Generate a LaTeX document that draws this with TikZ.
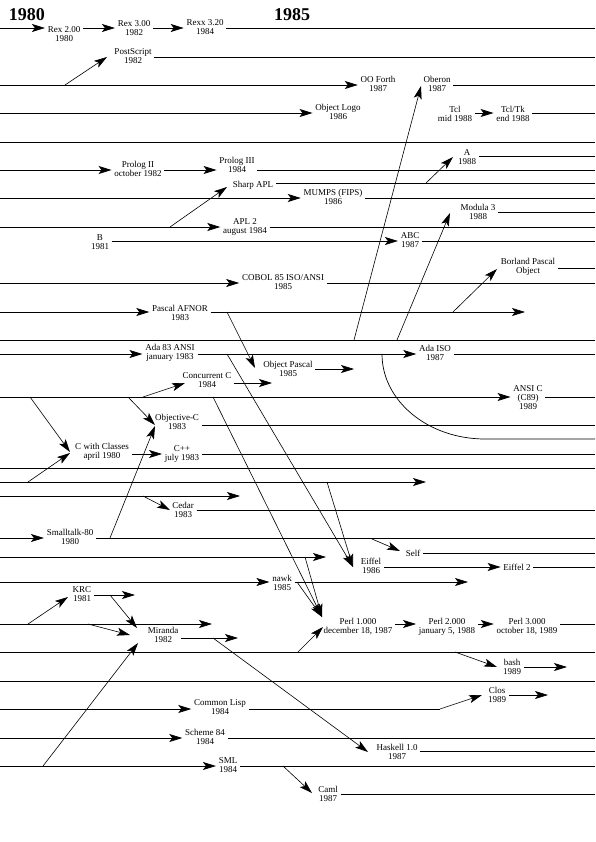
\documentclass[tikz,border=0pt]{standalone}
\usepackage{fontspec}
\setmainfont{Liberation Serif}
\usetikzlibrary{arrows.meta}
\begin{document}
\begin{tikzpicture}[x=1pt,y=-1pt,line width=0.7pt,
  arr/.style={-{Stealth[length=13pt,width=8pt,inset=3pt]}},
  lab/.style={font=\fontsize{9}{9}\selectfont,align=center,inner sep=2.5pt},
  title/.style={font=\fontsize{18}{18}\selectfont\bfseries,inner sep=0pt}]
\useasboundingbox (0,0) rectangle (595,842);
\fill[white] (0,0) rectangle (595,842);
\coordinate (E) at (595,0);
\foreach \r in {28,57,85,113,142,156,170,183,198,212,227,241,268,283,312,340,354,369,383,397,425,439,454,468,482,496,510,538,553,557,567,582,595,624,638,652,667,681,695,709,738,751,766,794}
  {\coordinate (y\r) at (0,\r);}
% free ends
\coordinate (f312) at (525,312);
\coordinate (f369) at (354,369);
\coordinate (f383) at (272,383);
\coordinate (f482) at (426,482);
\coordinate (f496) at (240,496);
\coordinate (f557) at (326,557);
\coordinate (f582) at (468,582);
\coordinate (f595) at (135,595);
\coordinate (f624) at (212,624);
\coordinate (f638) at (238,638);
\coordinate (f667) at (567,667);
\coordinate (f695) at (548,695);
\coordinate (e709) at (440,709);
% sources of the slanted arrows
\coordinate (s1) at (65,85);
\coordinate (s2) at (354,340);
\coordinate (s3) at (426,183);
\coordinate (s4) at (170,227);
\coordinate (s5) at (397,340);
\coordinate (s6) at (453,312);
\coordinate (s7) at (227,312);
\coordinate (s8) at (143,397);
\coordinate (s9) at (30,397);
\coordinate (s10) at (128,397);
\coordinate (s11) at (213,397);
\coordinate (s12) at (28,482);
\coordinate (s13) at (327,482);
\coordinate (s14) at (143,496);
\coordinate (s15) at (110,538);
\coordinate (s16) at (372,539);
\coordinate (s17) at (305,557);
\coordinate (s18) at (227,354);
\coordinate (s19) at (297,582);
\coordinate (s20) at (110,595);
\coordinate (s21) at (28,624);
\coordinate (s22) at (88,624);
\coordinate (s23) at (213,638);
\coordinate (s24) at (298,652);
\coordinate (s25) at (455,652);
\coordinate (s26) at (43,766);
\coordinate (s27) at (283,766);
\coordinate (c1) at (382,354);
\coordinate (c2) at (485,439);

% titles
\node[title] (t80) at (27,15) {1980};
\node[title] (t85) at (292,15) {1985};

% labels
\node[lab] (rex2) at (64,34.5) {Rex 2.00\\1980};
\node[lab] (rex3) at (134,28.5) {Rex 3.00\\1982};
\node[lab] (rexx) at (205,27) {Rexx 3.20\\1984};
\node[lab] (ps) at (133,56.5) {PostScript\\1982};
\node[lab] (ooforth) at (378,84) {OO Forth\\1987};
\node[lab] (oberon) at (437,84) {Oberon\\1987};
\node[lab] (ologo) at (338,111.5) {Object Logo\\1986};
\node[lab] (tcl) at (455,114) {Tcl\\mid 1988};
\node[lab] (tcltk) at (513,113.5) {Tcl/Tk\\end 1988};
\node[lab] (a) at (467,157) {A\\1988};
\node[lab] (prolog2) at (138,168.5) {Prolog II\\october 1982};
\node[lab] (prolog3) at (237,164.5) {Prolog III\\1984};
\node[lab] (sharp) at (253,185) {Sharp APL};
\node[lab] (mumps) at (333,197) {MUMPS (FIPS)\\1986};
\node[lab] (modula3) at (478,211.5) {Modula 3\\1988};
\node[lab] (apl2) at (245,227) {APL 2\\august 1984};
\node[lab] (b) at (100,242.5) {B\\1981};
\node[lab] (abc) at (410,240.5) {ABC\\1987};
\node[lab] (borland) at (528,266.5) {Borland Pascal\\Object};
\node[lab] (cobol) at (283,282.5) {COBOL 85 ISO/ANSI\\1985};
\node[lab] (pafnor) at (180,312.5) {Pascal AFNOR\\1983};
\node[lab] (ada83) at (170,353) {Ada 83 ANSI\\january 1983};
\node[lab] (adaiso) at (435,353) {Ada ISO\\1987};
\node[lab] (opascal) at (288,368.5) {Object Pascal\\1985};
\node[lab] (concc) at (207,380.5) {Concurrent C\\1984};
\node[lab] (ansic) at (528,397.5) {ANSI C\\(C89)\\1989};
\node[lab] (objc) at (177,422) {Objective-C\\1983};
\node[lab] (cwc) at (102,452) {C with Classes\\april 1980};
\node[lab] (cpp) at (182,453.5) {C++\\july 1983};
\node[lab] (cedar) at (183,509.5) {Cedar\\1983};
\node[lab] (smalltalk) at (70,536.5) {Smalltalk-80\\1980};
\node[lab] (self) at (413,553) {Self};
\node[lab] (eiffel) at (371,566) {Eiffel\\1986};
\node[lab] (eiffel2) at (517,567) {Eiffel 2};
\node[lab] (nawk) at (282,582.5) {nawk\\1985};
\node[lab] (krc) at (82,594) {KRC\\1981};
\node[lab] (miranda) at (163,634.5) {Miranda\\1982};
\node[lab] (perl1) at (358,626.5) {Perl 1.000\\december 18, 1987};
\node[lab] (perl2) at (447,626.5) {Perl 2.000\\january 5, 1988};
\node[lab] (perl3) at (527,626.5) {Perl 3.000\\october 18, 1989};
\node[lab] (bash) at (512,667) {bash\\1989};
\node[lab] (clos) at (497,694.5) {Clos\\1989};
\node[lab] (clisp) at (220,707.5) {Common Lisp\\1984};
\node[lab] (scheme) at (205,736.5) {Scheme 84\\1984};
\node[lab] (haskell) at (397,751.5) {Haskell 1.0\\1987};
\node[lab] (sml) at (228,765.5) {SML\\1984};
\node[lab] (caml) at (328,793.5) {Caml\\1987};

% horizontal time lines
\draw[arr] (y28) -- (y28 -| rex2.west);
\draw[arr] (rex2.east |- y28) -- (y28 -| rex3.west);
\draw[arr] (rex3.east |- y28) -- (y28 -| rexx.west);
\draw (rexx.east |- y28) -- (y28 -| E);
\draw (ps.east |- y57) -- (y57 -| E);
\draw[arr] (y85) -- (y85 -| ooforth.west);
\draw (oberon.east |- y85) -- (y85 -| E);
\draw[arr] (y113) -- (y113 -| ologo.west);
\draw[arr] (tcl.east |- y113) -- (y113 -| tcltk.west);
\draw (tcltk.east |- y113) -- (y113 -| E);
\draw (y142) -- (y142 -| E);
\draw (a.east |- y156) -- (y156 -| E);
\draw[arr] (y170) -- (y170 -| prolog2.west);
\draw[arr] (prolog2.east |- y170) -- (y170 -| prolog3.west);
\draw (prolog3.east |- y170) -- (y170 -| E);
\draw (sharp.east |- y183) -- (y183 -| E);
\draw[arr] (y198) -- (y198 -| mumps.west);
\draw (mumps.east |- y198) -- (y198 -| E);
\draw (modula3.east |- y212) -- (y212 -| E);
\draw[arr] (y227) -- (y227 -| apl2.west);
\draw (apl2.east |- y227) -- (y227 -| E);
\draw[arr] (b.east |- y241) -- (y241 -| abc.west);
\draw (abc.east |- y241) -- (y241 -| E);
\draw (borland.east |- y268) -- (y268 -| E);
\draw[arr] (y283) -- (y283 -| cobol.west);
\draw (cobol.east |- y283) -- (y283 -| E);
\draw[arr] (y312) -- (y312 -| pafnor.west);
\draw[arr] (pafnor.east |- y312) -- (f312);
\draw (y340) -- (y340 -| E);
\draw[arr] (y354) -- (y354 -| ada83.west);
\draw[arr] (ada83.east |- y354) -- (y354 -| adaiso.west);
\draw (adaiso.east |- y354) -- (y354 -| E);
\draw (c1) .. controls (382,401) and (428,439) .. (c2) -- (y439 -| E);
\draw[arr] (opascal.east |- y369) -- (f369);
\draw[arr] (concc.east |- y383) -- (f383);
\draw[arr] (y397) -- (y397 -| ansic.west);
\draw (ansic.east |- y397) -- (y397 -| E);
\draw (objc.east |- y425) -- (y425 -| E);
\draw[arr] (cwc.east |- y454) -- (y454 -| cpp.west);
\draw (cpp.east |- y454) -- (y454 -| E);
\draw (y468) -- (y468 -| E);
\draw[arr] (y482) -- (f482);
\draw[arr] (y496) -- (f496);
\draw (cedar.east |- y510) -- (y510 -| E);
\draw[arr] (y538) -- (y538 -| smalltalk.west);
\draw (smalltalk.east |- y538) -- (y538 -| E);
\draw (self.east |- y553) -- (y553 -| E);
\draw[arr] (y557) -- (f557);
\draw[arr] (eiffel.east |- y567) -- (y567 -| eiffel2.west);
\draw (eiffel2.east |- y567) -- (y567 -| E);
\draw[arr] (y582) -- (y582 -| nawk.west);
\draw[arr] (nawk.east |- y582) -- (f582);
\draw[arr] (krc.east |- y595) -- (f595);
\draw[arr] (y624) -- (f624);
\draw[arr] (perl1.east |- y624) -- (y624 -| perl2.west);
\draw[arr] (perl2.east |- y624) -- (y624 -| perl3.west);
\draw (perl3.east |- y624) -- (y624 -| E);
\draw[arr] (miranda.east |- y638) -- (f638);
\draw (y652) -- (y652 -| E);
\draw[arr] (bash.east |- y667) -- (f667);
\draw (y681) -- (y681 -| E);
\draw[arr] (clos.east |- y695) -- (f695);
\draw[arr] (y709) -- (y709 -| clisp.west);
\draw (clisp.east |- y709) -- (e709);
\draw[arr] (y738) -- (y738 -| scheme.west);
\draw (scheme.east |- y738) -- (y738 -| E);
\draw (haskell.east |- y751) -- (y751 -| E);
\draw[arr] (y766) -- (y766 -| sml.west);
\draw (sml.east |- y766) -- (y766 -| E);
\draw (caml.east |- y794) -- (y794 -| E);

% slanted influence arrows
\begin{scope}[line width=0.6pt]
\draw[arr] (s1) -- ([xshift=-26pt,yshift=-0.5pt]ps.center);
\draw[arr] (s2) -- ([xshift=-16pt,yshift=-2pt]oberon.center);
\draw[arr] (s3) -- ([xshift=-14pt]a.center);
\draw[arr] (s4) -- ([xshift=-26pt,yshift=-2pt]sharp.center);
\draw[arr] (s5) -- ([xshift=-28pt,yshift=-1.5pt]modula3.center);
\draw[arr] (s6) -- ([xshift=-31pt,yshift=-2.5pt]borland.center);
\draw[arr] (s7) -- ([xshift=-33pt,yshift=0.5pt]opascal.center);
\draw[arr] (s8) -- ([xshift=-22pt,yshift=-2.5pt]concc.center);
\draw[arr] (s9) -- ([xshift=-32pt]cwc.center);
\draw[arr] (s12) -- ([xshift=-32pt,yshift=-1pt]cwc.center);
\draw[arr] (s10) -- ([xshift=-22pt,yshift=-3pt]objc.center);
\draw[arr] (s15) -- ([xshift=-22pt,yshift=-4pt]objc.center);
\draw[arr] (s11) -- ([xshift=-36pt,yshift=9.5pt]perl1.center);
\draw[arr] (s17) -- ([xshift=-36pt,yshift=9.5pt]perl1.center);
\draw[arr] (s19) -- ([xshift=-36pt,yshift=9.5pt]perl1.center);
\draw[arr] (s24) -- ([xshift=-35pt,yshift=-0.5pt]perl1.center);
\draw[arr] (s13) -- ([xshift=-18pt,yshift=-1pt]eiffel.center);
\draw[arr] (s18) -- ([xshift=-18pt,yshift=-1pt]eiffel.center);
\draw[arr] (s14) -- ([xshift=-13pt,yshift=-0.5pt]cedar.center);
\draw[arr] (s16) -- ([xshift=-13pt,yshift=2pt]self.center);
\draw[arr] (s21) -- ([xshift=-14pt,yshift=-3pt]krc.center);
\draw[arr] (s20) -- ([xshift=-26pt,yshift=6.5pt]miranda.center);
\draw[arr] (s22) -- ([xshift=-33pt,yshift=-0.5pt]miranda.center);
\draw[arr] (s26) -- ([xshift=-25pt,yshift=-8.5pt]miranda.center);
\draw[arr] (s23) -- ([xshift=-29pt,yshift=-0.5pt]haskell.center);
\draw[arr] (s25) -- ([xshift=-15pt]bash.center);
\draw[arr] (e709) -- ([xshift=-15pt,yshift=-0.5pt]clos.center);
\draw[arr] (s27) -- ([xshift=-16pt,yshift=0.5pt]caml.center);
\end{scope}
\end{tikzpicture}
\end{document}
